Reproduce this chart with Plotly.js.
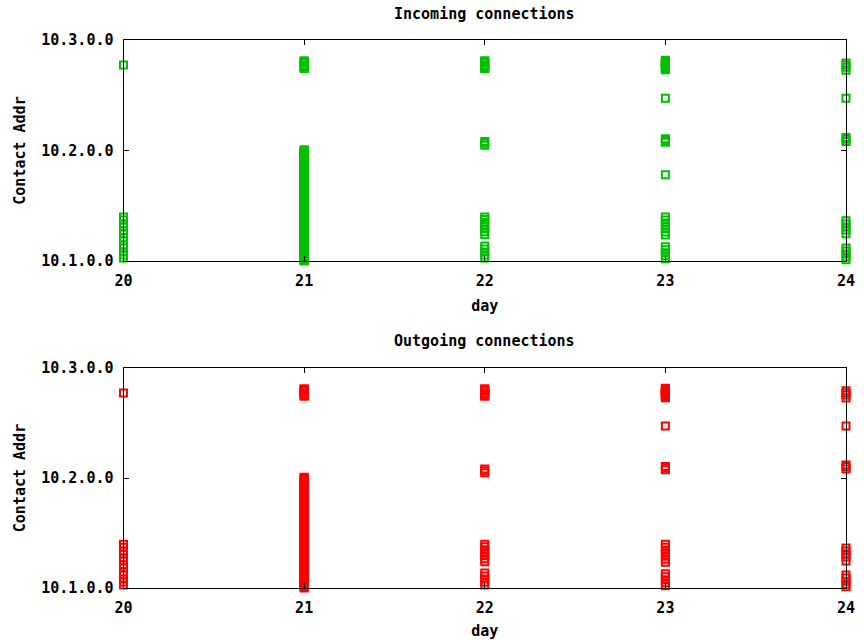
<!DOCTYPE html>
<html><head><meta charset="utf-8">
<script src="https://cdn.plot.ly/plotly-3.0.1.min.js"></script>
<style>html,body{margin:0;padding:0;background:#fff}</style>
</head><body><div id="chart" style="width:864px;height:640px"></div>
<script>
// ---- data ----
const dayTicks = [20, 21, 22, 23, 24];
const addrTicks = ["10.1.0.0", "10.2.0.0", "10.3.0.0"];

// 21st: sweep of 10.1.x.0 (third octets)
const sweepThirdOctets = [0,2,4,6,8,10,12,14,16,18,20,22,24,26,28,30,32,34,36,38,40,42,44,46,48,50,52,54,56,58,60,62,64,66,68,70,72,74,76,78,80,82,84,86,88,90,92,94,96,98,100,102,104,106,108,110,112,114,116,118,120,122,124,126,128,130,132,134,136,138,140,142,144,146,148,150,152,154,156,158,160,162,164,166,168,170,172,174,176,178,180,182,184,186,188,190,192,194,196,198,200,202,204,206,208,210,212,214,216,218,220,222,224,226,228,230,232,234,236,238,240,242,244,246,248,250,252,254];

// Incoming connections
const inDay20 = ["10.2.198.0","10.1.102.0","10.1.95.0","10.1.86.0","10.1.79.0","10.1.70.0","10.1.63.0","10.1.54.0","10.1.47.0","10.1.37.0","10.1.30.0","10.1.21.0","10.1.14.0","10.1.7.0"];
const inDay21 = ["10.2.208.0","10.2.206.0","10.2.204.0","10.2.202.0","10.2.197.0","10.2.194.0","10.2.192.0","10.2.190.0","10.2.0.0","10.2.2.0"];
const inDay22 = ["10.2.208.0","10.2.206.0","10.2.204.0","10.2.202.0","10.2.197.0","10.2.194.0","10.2.192.0","10.2.190.0","10.2.21.0","10.2.17.0","10.2.12.0","10.1.102.0","10.1.96.0","10.1.89.0","10.1.82.0","10.1.75.0","10.1.68.0","10.1.61.0","10.1.35.0","10.1.28.0","10.1.21.0","10.1.14.0","10.1.7.0"];
const inDay23 = ["10.2.209.0","10.2.207.0","10.2.205.0","10.2.203.0","10.2.201.0","10.2.199.0","10.2.197.0","10.2.195.0","10.2.193.0","10.2.191.0","10.2.189.0","10.2.187.0","10.2.121.0","10.2.27.0","10.2.23.0","10.2.19.0","10.1.200.0","10.1.102.0","10.1.95.0","10.1.88.0","10.1.81.0","10.1.74.0","10.1.67.0","10.1.60.0","10.1.33.0","10.1.26.0","10.1.19.0","10.1.12.0","10.1.5.0"];
const inDay24 = ["10.2.203.0","10.2.198.0","10.2.193.0","10.2.186.0","10.2.121.0","10.2.30.0","10.2.26.0","10.2.21.0","10.1.93.0","10.1.86.0","10.1.79.0","10.1.72.0","10.1.63.0","10.1.30.0","10.1.23.0","10.1.16.0","10.1.9.0","10.1.3.0"];

// Outgoing connections
const outDay20 = ["10.2.198.0","10.1.102.0","10.1.95.0","10.1.86.0","10.1.79.0","10.1.70.0","10.1.63.0","10.1.54.0","10.1.47.0","10.1.37.0","10.1.30.0","10.1.21.0","10.1.14.0","10.1.7.0"];
const outDay21 = ["10.2.208.0","10.2.206.0","10.2.204.0","10.2.202.0","10.2.197.0","10.2.194.0","10.2.192.0","10.2.190.0","10.2.0.0","10.2.2.0"];
const outDay22 = ["10.2.208.0","10.2.206.0","10.2.204.0","10.2.202.0","10.2.197.0","10.2.194.0","10.2.192.0","10.2.190.0","10.2.21.0","10.2.17.0","10.2.12.0","10.1.102.0","10.1.96.0","10.1.89.0","10.1.82.0","10.1.75.0","10.1.68.0","10.1.61.0","10.1.35.0","10.1.28.0","10.1.21.0","10.1.14.0","10.1.7.0"];
const outDay23 = ["10.2.209.0","10.2.207.0","10.2.205.0","10.2.203.0","10.2.201.0","10.2.199.0","10.2.197.0","10.2.195.0","10.2.193.0","10.2.191.0","10.2.189.0","10.2.187.0","10.2.121.0","10.2.27.0","10.2.23.0","10.2.19.0","10.1.102.0","10.1.95.0","10.1.88.0","10.1.81.0","10.1.74.0","10.1.67.0","10.1.60.0","10.1.33.0","10.1.26.0","10.1.19.0","10.1.12.0","10.1.5.0"];
const outDay24 = ["10.2.203.0","10.2.198.0","10.2.193.0","10.2.186.0","10.2.121.0","10.2.30.0","10.2.26.0","10.2.21.0","10.1.93.0","10.1.86.0","10.1.79.0","10.1.72.0","10.1.63.0","10.1.30.0","10.1.23.0","10.1.16.0","10.1.9.0","10.1.3.0"];

// ---- helpers ----
function ipToNum(s){ const p = s.split('.').map(Number); return p[1]*65536 + p[2]*256 + p[3]; }
const sweepAddrs = sweepThirdOctets.map(o => "10.1." + o + ".0");

function build(perDay){
  const x = [], y = [];
  perDay.forEach(([d, list]) => list.forEach(a => { x.push(d); y.push(ipToNum(a)); }));
  return {x, y};
}
const inData = build([[20,inDay20],[21,inDay21.concat(sweepAddrs)],[22,inDay22],[23,inDay23],[24,inDay24]]);
const outData = build([[20,outDay20],[21,outDay21.concat(sweepAddrs)],[22,outDay22],[23,outDay23],[24,outDay24]]);

const FONT = {family: '"DejaVu Sans Mono", monospace', size: 15, color: '#000', weight: 'bold'};

function mk(d, color, xa, ya){
  return {type:'scatter', mode:'markers', x:d.x, y:d.y, xaxis:xa, yaxis:ya, cliponaxis:false,
    marker:{symbol:'square-open', size:7, color:color, line:{width:2, color:color}},
    hoverinfo:'x+y', showlegend:false};
}

const yTickVals = addrTicks.map(ipToNum);
const yRange = [yTickVals[0], yTickVals[yTickVals.length-1]];

function xax(domainAnchor){
  return {domain:[123.5/864, 846/864], anchor:domainAnchor, range:[20,24], tickvals:dayTicks, ticktext:dayTicks.map(String),
    showgrid:false, zeroline:false, showline:true, linecolor:'#000', linewidth:1, mirror:'ticks',
    ticks:'inside', ticklen:5, tickcolor:'#000', tickwidth:1, tickfont:FONT, ticklabelstandoff:6,
    title:{text:'day', font:FONT, standoff:11}, automargin:false, fixedrange:true};
}
function yax(domain, anchor){
  return {domain:domain, anchor:anchor, range:yRange, tickvals:yTickVals, ticktext:addrTicks,
    showgrid:false, zeroline:false, showline:true, linecolor:'#000', linewidth:1, mirror:'ticks',
    ticks:'inside', ticklen:5, tickcolor:'#000', tickwidth:1, tickfont:FONT, ticklabelstandoff:6,
    title:{text:'Contact Addr', font:FONT, standoff:12}, automargin:false, fixedrange:true};
}

const layout = {
  width:864, height:640, margin:{l:0,r:0,t:0,b:0}, paper_bgcolor:'#fff', plot_bgcolor:'#fff',
  showlegend:false,
  xaxis: xax('y'),
  yaxis: yax([1-261/640, 1-40/640], 'x'),
  xaxis2: xax('y2'),
  yaxis2: yax([1-588/640, 1-368/640], 'x2'),
  annotations:[
    {text:'Incoming connections', xref:'paper', yref:'paper', x:484.75/864, y:1-14/640, showarrow:false, font:FONT, xanchor:'center', yanchor:'middle'},
    {text:'Outgoing connections', xref:'paper', yref:'paper', x:484.75/864, y:1-341/640, showarrow:false, font:FONT, xanchor:'center', yanchor:'middle'}
  ]
};

Plotly.newPlot('chart', [mk(inData,'#00c000','x','y'), mk(outData,'#ff0000','x2','y2')], layout, {displayModeBar:false, staticPlot:true});
</script></body></html>
